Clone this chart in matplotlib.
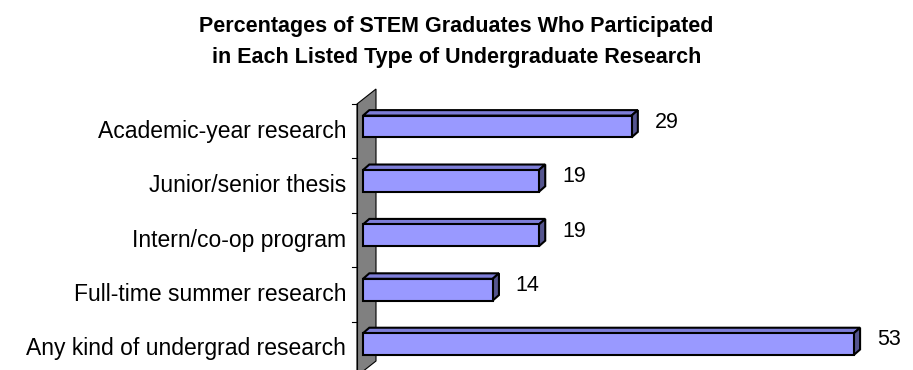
import matplotlib
matplotlib.use("Agg")
import matplotlib.pyplot as plt
from matplotlib.patches import Polygon

plt.rcParams["font.family"] = ["Liberation Sans", "DejaVu Sans"]

# Dados (de cima para baixo)
categorias = ["Academic-year research", "Junior/senior thesis",
              "Intern/co-op program", "Full-time summer research",
              "Any kind of undergrad research"]
valores = [29, 19, 19, 14, 53]
titulo = ("Percentages of STEM Graduates Who Participated\n"
          "in Each Listed Type of Undergraduate Research")

W, H = 913, 370
PX_X = 9.26   # px por unidade de valor
PX_Y = 54.4   # px por categoria

# profundidade 3D (em px -> unidades de dados)
def dx(px): return px / PX_X
def dy(px): return px / PX_Y

FRENTE = "#9999FF"
TOPO = "#7E7ED8"
LADO = "#55558F"

fig = plt.figure(figsize=(W / 100, H / 100), dpi=100)
x0, y_top, y_bot = 357, 104, 376
ax = fig.add_axes([x0 / W, 1 - y_bot / H, (W - x0) / W, (y_bot - y_top) / H])
ax.set_xlim(0, (W - x0) / PX_X)
ax.set_ylim(len(categorias) - 0.5, -0.5)
ax.axis("off")

# parede lateral cinza
n = len(categorias)
wx, wy = dx(19), dy(15)
parede = Polygon([(0, n - 0.5), (0, -0.5), (wx, -0.5 - wy), (wx, n - 0.5 - wy)],
                 closed=True, facecolor="#808080", edgecolor="black", lw=0.8,
                 clip_on=False, zorder=1)
ax.add_patch(parede)

# marcas do eixo
for k in range(n + 1):
    ax.plot([-dx(5), 0], [k - 0.5, k - 0.5], color="black", lw=0.8,
            clip_on=False, zorder=2)
ax.plot([0, 0], [-0.5, n - 0.5], color="black", lw=0.8, clip_on=False, zorder=2)

# barras 3D
ox, oy = dx(6), dy(4.7)      # recuo da face frontal
bx, by = dx(6.3), dy(5.5)    # profundidade da barra
h = 0.40
for i, (cat, v) in enumerate(zip(categorias, valores)):
    xa, xb = ox, v + ox
    ya, yb = i - h / 2 - oy, i + h / 2 - oy   # ya = topo
    frente = Polygon([(xa, ya), (xb, ya), (xb, yb), (xa, yb)],
                     facecolor=FRENTE, edgecolor="black", lw=1.5, zorder=4,
                     joinstyle="miter")
    topo = Polygon([(xa, ya), (xa + bx, ya - by), (xb + bx, ya - by), (xb, ya)],
                   facecolor=TOPO, edgecolor="black", lw=1.5, zorder=3,
                   joinstyle="miter")
    lado = Polygon([(xb, ya), (xb + bx, ya - by), (xb + bx, yb - by), (xb, yb)],
                   facecolor=LADO, edgecolor="black", lw=1.5, zorder=3,
                   joinstyle="miter")
    for p in (topo, lado, frente):
        ax.add_patch(p)
    ax.text(v + dx(29), i - dy(9), str(v), ha="left", va="center",
            fontsize=15.5, color="black")
    ax.text(-dx(11), i, cat, ha="right", va="center", fontsize=16.5,
            color="black", clip_on=False)

fig.text(0.5, 1 - 42 / H, titulo, ha="center", va="center", fontsize=15.5,
         fontweight="bold", linespacing=1.65)

fig.savefig("out.png", dpi=100)
